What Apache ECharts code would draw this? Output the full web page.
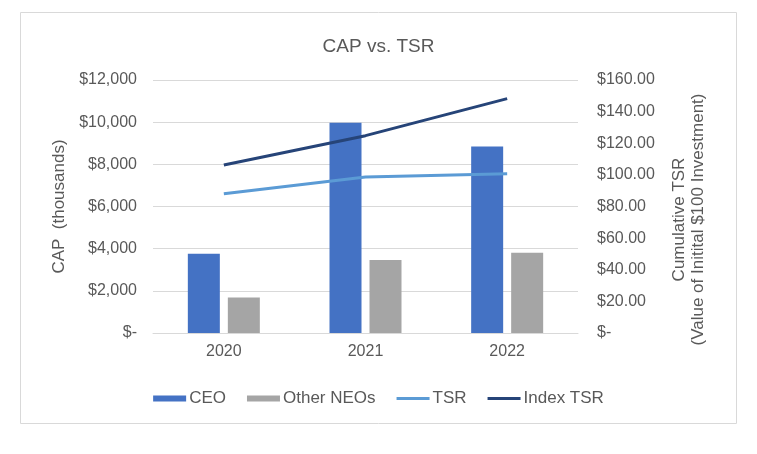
<!DOCTYPE html>
<html><head><meta charset="utf-8">
<script src="https://cdn.jsdelivr.net/npm/echarts@6/dist/echarts.min.js"></script>
<style>html,body{margin:0;padding:0;background:#fff}#c{width:757px;height:454px}</style>
</head><body><div id="c"></div>
<script>
var categories = ['2020', '2021', '2022'];
var ceoCAP = [3760, 9970, 8840];
var otherNEOsCAP = [1680, 3460, 3810];
var tsr = [88.0, 98.7, 100.7];
var indexTSR = [106.2, 124.8, 148.2];
var leftTicks = {min: 0, max: 12000, interval: 2000};
var rightTicks = {min: 0, max: 160, interval: 20};

var txt = '#595959';
var font = 'Liberation Sans, Arial, sans-serif';
var lineIcon = 'path://M0,0H33V3H0Z';
var chart = echarts.init(document.getElementById('c'));
chart.setOption({
  animation: false,
  textStyle: {fontFamily: font},
  title: {text: 'CAP vs. TSR', left: 'center', top: 32,
    textStyle: {fontFamily: 'Liberation Sans Narrow, Liberation Sans, Arial', fontSize: 19, fontWeight: 'normal', color: txt}},
  graphic: [{type: 'rect', shape: {x: 20.5, y: 12.5, width: 716, height: 411},
    style: {fill: 'none', stroke: '#d9d9d9', lineWidth: 1}, silent: true, z: -1}],
  grid: {left: 153, right: 179, top: 80, bottom: 121},
  legend: {bottom: 42, left: 'center', itemGap: 21, itemWidth: 33, itemHeight: 6,
    symbolKeepAspect: true,
    textStyle: {color: txt, fontSize: 17, fontFamily: font, padding: [0, 0, 0, -2]},
    data: [
      {name: 'CEO', icon: 'rect'},
      {name: 'Other NEOs', icon: 'rect'},
      {name: 'TSR', icon: lineIcon},
      {name: 'Index TSR', icon: lineIcon}
    ]},
  xAxis: {type: 'category', data: categories,
    axisLine: {lineStyle: {color: '#d9d9d9'}}, axisTick: {show: false},
    axisLabel: {color: txt, fontSize: 16, margin: 11}},
  yAxis: [
    {type: 'value', min: leftTicks.min, max: leftTicks.max, interval: leftTicks.interval,
      name: 'CAP  (thousands)', nameLocation: 'middle', nameGap: 82,
      nameTextStyle: {color: txt, fontSize: 17},
      axisLabel: {color: txt, fontSize: 16, margin: 16,
        formatter: function (v) { return v === 0 ? '$-' : '$' + v.toLocaleString('en-US'); }},
      splitLine: {lineStyle: {color: '#d9d9d9'}}},
    {type: 'value', min: rightTicks.min, max: rightTicks.max, interval: rightTicks.interval,
      name: 'Cumulative TSR\n(Value of Initital $100 Investment)', nameLocation: 'middle', nameGap: 92,
      nameRotate: 90,
      nameTextStyle: {color: txt, fontSize: 17, lineHeight: 19, padding: [0, 26, 0, 0]},
      axisLabel: {color: txt, fontSize: 16, margin: 19,
        formatter: function (v) { return v === 0 ? '$-' : '$' + v.toFixed(2); }},
      splitLine: {show: false}}
  ],
  series: [
    {name: 'CEO', type: 'bar', data: ceoCAP, itemStyle: {color: '#4472C4'},
      barWidth: 32, barGap: '25%'},
    {name: 'Other NEOs', type: 'bar', data: otherNEOsCAP, itemStyle: {color: '#A5A5A5'},
      barWidth: 32},
    {name: 'TSR', type: 'line', yAxisIndex: 1, data: tsr, symbol: 'none',
      lineStyle: {color: '#5B9BD5', width: 3}, itemStyle: {color: '#5B9BD5'}},
    {name: 'Index TSR', type: 'line', yAxisIndex: 1, data: indexTSR, symbol: 'none',
      lineStyle: {color: '#264478', width: 3}, itemStyle: {color: '#264478'}}
  ]
});
</script></body></html>
